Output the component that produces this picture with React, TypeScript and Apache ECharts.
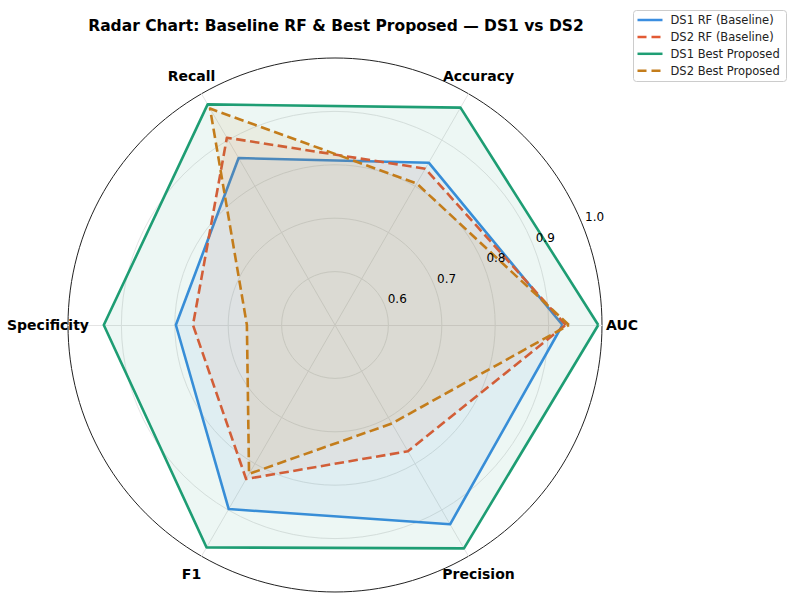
import React, { useEffect, useRef } from "react";
import * as echarts from "echarts";

const indicators = ["AUC", "Accuracy", "Recall", "Specificity", "F1", "Precision"];
const seriesNames = ["DS1 RF (Baseline)", "DS2 RF (Baseline)", "DS1 Best Proposed", "DS2 Best Proposed"];
const ds1RF = [0.926, 0.851, 0.861, 0.798, 0.898, 0.931];
const ds2RF = [0.932, 0.838, 0.905, 0.766, 0.833, 0.773];
const ds1Best = [0.993, 0.970, 0.977, 0.933, 0.981, 0.983];
const ds2Best = [0.938, 0.806, 0.968, 0.665, 0.822, 0.713];
const radialTicks = [0.6, 0.7, 0.8, 0.9, 1.0];
const rMin = 0.5;
const rMax = 1.0;

const seriesValues = [ds1RF, ds2RF, ds1Best, ds2Best];
const colors = ["#3b8ee0", "#e25a34", "#1f9e74", "#c47d1c"];
const dashed = [false, true, false, true];

const CX = 335;
const CY = 325;
const R = 267;
const FONT = "DejaVu Sans";

export default function App() {
  const ref = useRef<HTMLDivElement>(null);
  useEffect(() => {
    if (!ref.current) return;
    const chart = echarts.init(ref.current, null, { renderer: "svg" });
    const n = indicators.length;
    const rOf = (v: number) => ((v - rMin) / (rMax - rMin)) * R;

    const nameTexts = indicators.map((name, i) => {
      const a = (i * 2 * Math.PI) / n;
      return {
        type: "text",
        x: CX + 287 * Math.cos(a),
        y: CY - 287 * Math.sin(a),
        z: 10,
        style: {
          text: name,
          fontFamily: FONT,
          fontSize: 14,
          fontWeight: "bold",
          fill: "#000",
          align: "center",
          verticalAlign: "middle",
        },
      };
    });

    const la = (22.5 * Math.PI) / 180;
    const tickTexts = radialTicks.map((v) => ({
      type: "text",
      x: CX + (rOf(v) + 14) * Math.cos(la),
      y: CY - (rOf(v) + 14) * Math.sin(la),
      z: 10,
      style: {
        text: v.toFixed(1),
        fontFamily: FONT,
        fontSize: 12,
        fill: "#000",
        align: "center",
        verticalAlign: "middle",
      },
    }));

    const legendTop = 10.5;
    const legendLeft = 633.5;
    const rowH = 16.9;
    const legendItems: any[] = [
      {
        type: "rect",
        shape: { x: legendLeft, y: legendTop, width: 153, height: 71, r: 3 },
        z: 20,
        style: { fill: "rgba(255,255,255,0.85)", stroke: "#cccccc", lineWidth: 1 },
      },
    ];
    seriesNames.forEach((name, i) => {
      const y = legendTop + 9.5 + i * rowH;
      legendItems.push({
        type: "line",
        z: 21,
        shape: { x1: legendLeft + 4, y1: y, x2: legendLeft + 29, y2: y },
        style: {
          stroke: colors[i],
          lineWidth: 2.5,
          lineDash: dashed[i] ? [9, 5] : null,
        },
      });
      legendItems.push({
        type: "text",
        z: 21,
        x: legendLeft + 37,
        y,
        style: {
          text: name,
          fontFamily: FONT,
          fontSize: 11.5,
          fill: "#222",
          align: "left",
          verticalAlign: "middle",
        },
      });
    });

    chart.setOption({
      animation: false,
      backgroundColor: "#ffffff",
      title: {
        text: "Radar Chart: Baseline RF & Best Proposed — DS1 vs DS2",
        left: CX - 4,
        top: 13,
        textAlign: "center",
        textStyle: { fontFamily: FONT, fontWeight: "bold", fontSize: 15.5, color: "#000" },
      },
      radar: {
        center: [CX, CY],
        radius: R,
        startAngle: 0,
        shape: "circle",
        splitNumber: 5,
        indicator: indicators.map((name) => ({ name, min: rMin, max: rMax })),
        axisName: { show: false },
        axisLine: { lineStyle: { color: "#e4e4e4", width: 1 } },
        splitLine: {
          lineStyle: {
            color: ["#e4e4e4", "#e4e4e4", "#e4e4e4", "#e4e4e4", "#e4e4e4", "#222222"],
            width: 1,
          },
        },
        splitArea: { show: false },
        axisTick: { show: false },
        axisLabel: { show: false },
      },
      series: seriesNames.map((name, i) => ({
        type: "radar",
        name,
        symbol: "none",
        z: 2 + i,
        lineStyle: { color: colors[i], width: 2.6, type: dashed[i] ? [9.5, 4.5] : "solid" },
        areaStyle: { color: colors[i], opacity: 0.08 },
        itemStyle: { color: colors[i] },
        data: [{ name, value: seriesValues[i] }],
      })),
      graphic: [...nameTexts, ...tickTexts, ...legendItems],
    });
    return () => chart.dispose();
  }, []);
  return (
    <div
      ref={ref}
      style={{ position: "absolute", left: 0, top: 0, width: 796, height: 604 }}
    />
  );
}
